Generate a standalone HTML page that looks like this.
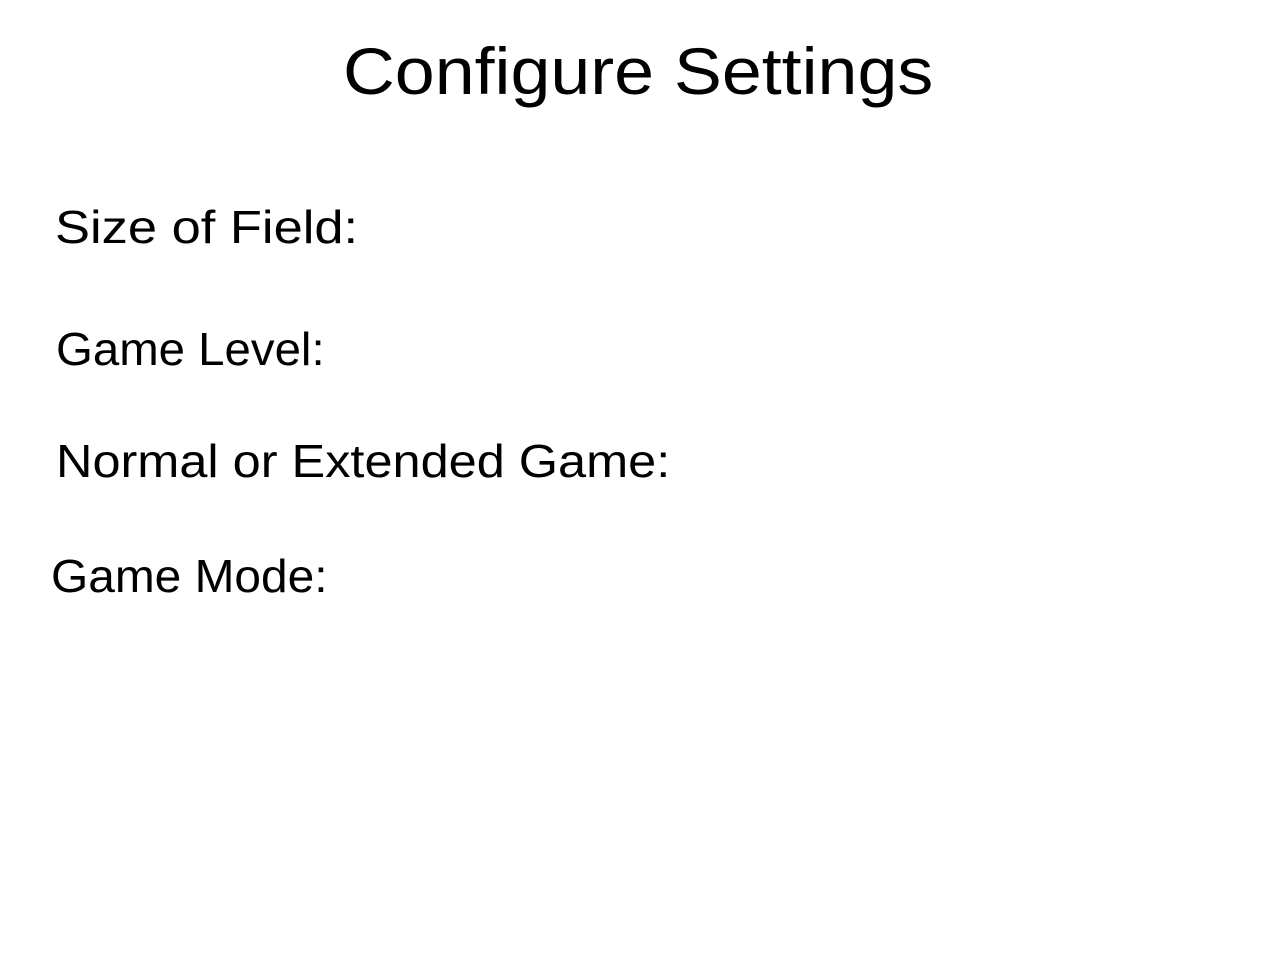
<!DOCTYPE html>
<html><head><meta charset="utf-8"><style>
html,body{margin:0;padding:0;width:1280px;height:960px;background:#fff;overflow:hidden}
div{position:absolute;font-family:"Liberation Sans",sans-serif;color:#000;white-space:nowrap;line-height:1;transform-origin:0 0}
</style></head><body>
<div style="left:343px;top:38px;font-size:66px;transform:scaleX(1.087)">Configure Settings</div>
<div style="left:55px;top:204px;font-size:46px;transform:scaleX(1.14)">Size of Field:</div>
<div style="left:56px;top:326px;font-size:46px;transform:scaleX(1.03)">Game Level:</div>
<div style="left:56px;top:438px;font-size:46px;transform:scaleX(1.097)">Normal or Extended Game:</div>
<div style="left:51px;top:553px;font-size:46px;transform:scaleX(1.04)">Game Mode:</div>
</body></html>
